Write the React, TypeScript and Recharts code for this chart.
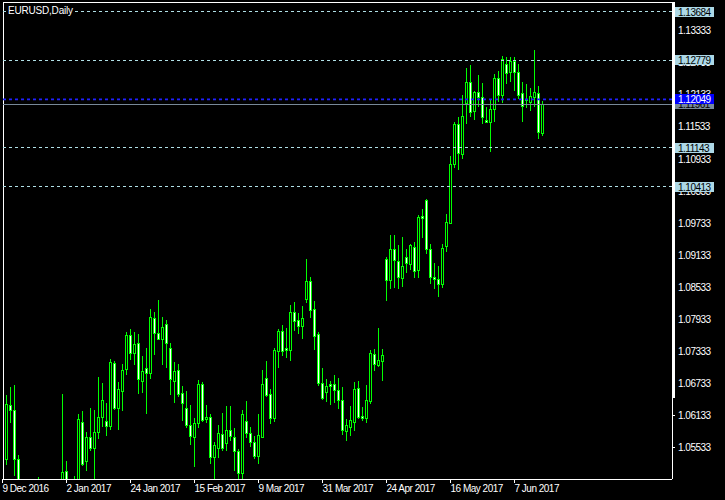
import React from "react";
import { ComposedChart, Bar, XAxis, YAxis, ReferenceLine } from "recharts";

// EURUSD daily candles, 9 Dec 2016 .. 16 Jun 2017
const opens = [
  1.06126, 1.05327, 1.06331, 1.06238, 1.05321, 1.041, 1.045, 1.0402, 1.0385, 1.0425,
  1.0436, 1.0453, 1.0452, 1.0456, 1.041, 1.048, 1.05097, 1.0458, 1.0405, 1.0488,
  1.06008, 1.05289, 1.05727, 1.05521, 1.05821, 1.06101, 1.06032, 1.05944, 1.07111, 1.06281,
  1.06599, 1.06999, 1.07641, 1.07298, 1.07486, 1.06786, 1.07018, 1.06924, 1.07953, 1.07673,
  1.07572, 1.07847, 1.07392, 1.06786, 1.06986, 1.0655, 1.0627, 1.05957, 1.05738, 1.05989,
  1.06719, 1.06064, 1.06101, 1.05353, 1.05521, 1.05789, 1.05615, 1.05864, 1.05733, 1.05471,
  1.05054, 1.06032, 1.05813, 1.05645, 1.05377, 1.05738, 1.06831, 1.06531, 1.06083, 1.07347,
  1.07716, 1.07403, 1.0736, 1.08065, 1.07921, 1.07809, 1.08314, 1.08651, 1.08122, 1.07654,
  1.06737, 1.0658, 1.06724, 1.06724, 1.06612, 1.06425, 1.05851, 1.05925, 1.06019, 1.06655,
  1.06126, 1.06094, 1.06412, 1.0728, 1.0708, 1.0716, 1.09062, 1.0867, 1.09244, 1.09025,
  1.08701, 1.09094, 1.08963, 1.09281, 1.08857, 1.09867, 1.10161, 1.09244, 1.08731, 1.08688,
  1.086, 1.09311, 1.09742, 1.10834, 1.11582, 1.11021, 1.11986, 1.12368, 1.11831, 1.12181,
  1.12098, 1.11663, 1.1162, 1.11863, 1.12443, 1.1213, 1.12705, 1.12561, 1.12772, 1.12555,
  1.12162, 1.12037, 1.12005, 1.12098, 1.12162, 1.11425,
];
const highs = [
  1.06238, 1.06518, 1.06674, 1.06706, 1.05396, 1.0475, 1.0474, 1.0414, 1.044, 1.04985,
  1.0474, 1.0462, 1.0469, 1.0474, 1.049, 1.06537, 1.05284, 1.0485, 1.05003, 1.06163,
  1.06219, 1.05832, 1.06275, 1.06238, 1.06855, 1.06737, 1.06363, 1.07192, 1.07154, 1.06767,
  1.07098, 1.07691, 1.07753, 1.07691, 1.0766, 1.07248, 1.07392, 1.08127, 1.08065, 1.08296,
  1.07972, 1.07921, 1.07486, 1.0713, 1.07098, 1.06687, 1.06593, 1.06331, 1.06083, 1.06799,
  1.06756, 1.06331, 1.06163, 1.05645, 1.05957, 1.06187, 1.06313, 1.06313, 1.05901, 1.05503,
  1.06238, 1.06406, 1.05925, 1.05757, 1.06163, 1.06986, 1.07154, 1.06631, 1.07403, 1.07753,
  1.07828, 1.07766, 1.08202, 1.08264, 1.08047, 1.08183, 1.09062, 1.0872, 1.08277, 1.07691,
  1.07018, 1.06818, 1.0678, 1.06893, 1.06831, 1.06662, 1.0607, 1.06313, 1.06767, 1.0678,
  1.063, 1.06706, 1.0736, 1.07379, 1.07766, 1.07379, 1.091, 1.09511, 1.09511, 1.09324,
  1.09468, 1.0925, 1.09343, 1.09386, 1.09886, 1.09998, 1.10179, 1.09343, 1.08982, 1.08932,
  1.09343, 1.09904, 1.10989, 1.1162, 1.11713, 1.1213, 1.1263, 1.12691, 1.12205, 1.12504,
  1.12349, 1.119, 1.1205, 1.12523, 1.12579, 1.1286, 1.12835, 1.12835, 1.12835, 1.1271,
  1.12379, 1.12336, 1.12267, 1.12972, 1.12299, 1.12018,
];
const lows = [
  1.05396, 1.05233, 1.06019, 1.0503, 1.0366, 1.0394, 1.039, 1.0352, 1.0375, 1.042,
  1.0433, 1.0437, 1.0428, 1.04, 1.0406, 1.0453, 1.0454, 1.034, 1.039, 1.048,
  1.05209, 1.0511, 1.0549, 1.0454, 1.05709, 1.05944, 1.0577, 1.05882, 1.06257, 1.05882,
  1.06238, 1.06917, 1.07192, 1.07098, 1.06562, 1.0658, 1.06187, 1.06842, 1.07291, 1.0756,
  1.07098, 1.07048, 1.06537, 1.06393, 1.06505, 1.06051, 1.05914, 1.05602, 1.05196, 1.05914,
  1.06038, 1.06019, 1.05252, 1.04891, 1.05364, 1.0549, 1.0549, 1.05677, 1.05116, 1.04891,
  1.04966, 1.05738, 1.0557, 1.05346, 1.05241, 1.05727, 1.06505, 1.05989, 1.06038, 1.07048,
  1.07267, 1.07235, 1.07173, 1.07734, 1.07673, 1.0759, 1.08264, 1.07983, 1.07379, 1.06706,
  1.06444, 1.06412, 1.0635, 1.06393, 1.0627, 1.05789, 1.05677, 1.0577, 1.05864, 1.06083,
  1.06051, 1.06019, 1.06363, 1.06986, 1.07066, 1.06799, 1.08296, 1.08514, 1.08544, 1.08514,
  1.08557, 1.08825, 1.0887, 1.08731, 1.08731, 1.0948, 1.09169, 1.08619, 1.08514, 1.0837,
  1.08544, 1.09218, 1.0973, 1.10789, 1.10752, 1.10957, 1.11612, 1.11737, 1.11681, 1.1193,
  1.11601, 1.1162, 1.11088, 1.1165, 1.12018, 1.12005, 1.12349, 1.12398, 1.12224, 1.12069,
  1.1165, 1.11911, 1.1185, 1.1193, 1.1132, 1.11382,
];
const closes = [
  1.05508, 1.06345, 1.06243, 1.05327, 1.041, 1.045, 1.0402, 1.0385, 1.0425, 1.0436,
  1.0453, 1.0452, 1.0456, 1.041, 1.048, 1.05078, 1.0458, 1.0405, 1.0488, 1.0607,
  1.05233, 1.05727, 1.05521, 1.05821, 1.06101, 1.06425, 1.05944, 1.0713, 1.06281, 1.06631,
  1.06986, 1.07635, 1.0731, 1.07472, 1.06812, 1.06967, 1.06924, 1.07972, 1.07673, 1.07572,
  1.07785, 1.07486, 1.06812, 1.06967, 1.06537, 1.06374, 1.05957, 1.05757, 1.05989, 1.06724,
  1.06051, 1.06113, 1.05353, 1.05583, 1.05802, 1.05521, 1.05864, 1.05757, 1.05462, 1.05054,
  1.06163, 1.05802, 1.05645, 1.05377, 1.0577, 1.06719, 1.06518, 1.06083, 1.0736, 1.07716,
  1.07347, 1.0736, 1.08065, 1.07908, 1.07815, 1.07953, 1.08651, 1.08108, 1.07628, 1.06737,
  1.06457, 1.06687, 1.06692, 1.06612, 1.06425, 1.05864, 1.05957, 1.06051, 1.06631, 1.06113,
  1.06094, 1.06425, 1.07298, 1.07093, 1.07173, 1.07261, 1.0867, 1.09244, 1.09044, 1.0872,
  1.08932, 1.08982, 1.09324, 1.08838, 1.09842, 1.09835, 1.09244, 1.08731, 1.08683, 1.086,
  1.09263, 1.09749, 1.10834, 1.11582, 1.1104, 1.11737, 1.12368, 1.11818, 1.12181, 1.12098,
  1.11724, 1.11631, 1.11863, 1.12454, 1.1213, 1.12804, 1.12536, 1.12766, 1.12566, 1.1213,
  1.1193, 1.12055, 1.12112, 1.12181, 1.11444, 1.11961,
];

const dateTicks = [0, 16, 32, 48, 64, 80, 96, 112, 128];
const dateLabels = [
  "9 Dec 2016", "2 Jan 2017", "24 Jan 2017", "15 Feb 2017", "9 Mar 2017",
  "31 Mar 2017", "24 Apr 2017", "16 May 2017", "7 Jun 2017",
];
const priceTicks = [
  1.05533, 1.06133, 1.06733, 1.07333, 1.07933, 1.08533, 1.09133,
  1.09733, 1.10333, 1.10933, 1.11533, 1.12133, 1.12733, 1.13333,
];
const levelLines = [1.13684, 1.12779, 1.11143, 1.10413];
const bidPrice = 1.12049;
const lastPrice = 1.11961;

const data = opens.map((open, i) => ({
  idx: i,
  open,
  high: highs[i],
  low: lows[i],
  close: closes[i],
}));

const FONT = "'Liberation Sans', Arial, sans-serif";
const GREEN = "#00ff00";
const LEVEL = "#b0e0e6";
const X_DOMAIN = [0.125, 167.375];
const Y_DOMAIN = [1.04947, 1.1387];
const MARGIN = { top: 2, right: 0, bottom: 0, left: 3 };

const Candle = (props: any) => {
  const { x, y, width, height, payload } = props;
  if (payload == null || height == null) return null;
  const { open, close, high, low } = payload;
  const cx = x + width / 2;
  const py = (v: number) => y + ((high - v) / (high - low || 1)) * height;
  const yHigh = Math.round(py(high));
  const yLow = Math.round(py(low));
  const yTop = Math.round(py(Math.max(open, close)));
  const yBot = Math.round(py(Math.min(open, close)));
  const left = Math.round(cx - 1.5);
  const bear = close < open;
  return (
    <g>
      <rect x={left + 1} y={yHigh} width={1} height={yLow - yHigh + 1} fill={GREEN} />
      <rect x={left} y={yTop} width={3} height={yBot - yTop + 1} fill={GREEN} />
      {yBot - yTop > 1 && (
        <rect
          x={left + 1}
          y={yTop + 1}
          width={1}
          height={yBot - yTop - 1}
          fill={bear ? "#ffffff" : "#000000"}
        />
      )}
    </g>
  );
};

const PriceTag = (props: any) => {
  const { viewBox, text, bg, fg } = props;
  if (!viewBox) return null;
  const x = viewBox.x + viewBox.width + 3;
  const y = Math.round(viewBox.y);
  return (
    <g>
      <rect x={x} y={y - 5} width={39} height={10} fill={bg} />
      <text x={x + 3} y={y + 4} fill={fg} fontSize={10} fontFamily={FONT} letterSpacing={-0.5}>
        {text}
      </text>
    </g>
  );
};

const DateTick = (props: any) => {
  const { x, y, payload } = props;
  const k = dateTicks.indexOf(payload.value);
  return (
    <g>
      <line x1={x} y1={y} x2={x} y2={y + 4} stroke="#fff" shapeRendering="crispEdges" />
      <text x={x} y={y + 13} fill="#fff" fontSize={10} fontFamily={FONT} letterSpacing={-0.5} textAnchor="start">
        {dateLabels[k]}
      </text>
    </g>
  );
};

export default function App() {
  return (
    <div style={{ position: "absolute", left: 0, top: 0, width: 725, height: 500, background: "#000", overflow: "hidden" }}>
      <ComposedChart width={725} height={500} data={data} margin={MARGIN}>
        <XAxis
          dataKey="idx"
          type="number"
          domain={X_DOMAIN}
          allowDataOverflow
          ticks={dateTicks}
          interval={0}
          height={21}
          tickSize={0}
          tickMargin={0}
          tickLine={false}
          axisLine={{ stroke: "#fff", shapeRendering: "crispEdges" }}
          tick={<DateTick />}
        />
        <YAxis
          orientation="right"
          type="number"
          domain={Y_DOMAIN}
          allowDataOverflow
          ticks={priceTicks}
          interval={0}
          width={53}
          tickSize={3}
          tickMargin={3}
          axisLine={{ stroke: "#fff", shapeRendering: "crispEdges" }}
          tickLine={{ stroke: "#fff", shapeRendering: "crispEdges" }}
          tickFormatter={(v: number) => v.toFixed(5)}
          tick={{ fill: "#fff", fontSize: 10, fontFamily: FONT, letterSpacing: -0.5 }}
        />
        <ReferenceLine x={0.125} stroke="#fff" shapeRendering="crispEdges" />
        <ReferenceLine y={1.1387} stroke="#fff" shapeRendering="crispEdges" />
        {levelLines.map((v) => (
          <ReferenceLine key={v} y={v} stroke={LEVEL} strokeDasharray="3 3" shapeRendering="crispEdges" />
        ))}
        <ReferenceLine y={lastPrice} stroke="#778899" shapeRendering="crispEdges" />
        <Bar
          dataKey={(d: any) => [d.low, d.high]}
          barSize={3}
          shape={<Candle />}
          isAnimationActive={false}
        />
        <ReferenceLine y={bidPrice} stroke="#2020ff" strokeWidth={1.6} strokeDasharray="3 3" />
      </ComposedChart>

      {/* price tags drawn on a second layer so they sit above the axis labels */}
      <div style={{ position: "absolute", left: 0, top: 0, pointerEvents: "none" }}>
        <ComposedChart width={725} height={500} data={data} margin={MARGIN}>
          <XAxis dataKey="idx" type="number" domain={X_DOMAIN} allowDataOverflow height={21} tick={false} tickLine={false} axisLine={false} />
          <YAxis orientation="right" type="number" domain={Y_DOMAIN} allowDataOverflow width={53} tick={false} tickLine={false} axisLine={false} />
          {levelLines.map((v) => (
            <ReferenceLine
              key={v}
              y={v}
              stroke="none"
              label={<PriceTag text={v.toFixed(5)} bg="#add8e6" fg="#000" />}
            />
          ))}
          <ReferenceLine
            y={lastPrice}
            stroke="none"
            label={<PriceTag text={lastPrice.toFixed(5)} bg="#778899" fg="#000" />}
          />
          <ReferenceLine
            y={bidPrice}
            stroke="none"
            label={<PriceTag text={bidPrice.toFixed(5)} bg="#0000ff" fg="#fff" />}
          />
        </ComposedChart>
      </div>

      <div
        style={{
          position: "absolute", left: 7, top: 5, height: 11, lineHeight: "11px",
          padding: "0 1px", background: "#000", color: "#fff",
          fontFamily: FONT, fontSize: 10, letterSpacing: -0.2,
        }}
      >
        EURUSD,Daily
      </div>
      <div style={{ position: "absolute", left: 672, top: 2, width: 3, height: 396, background: "#fff" }} />
    </div>
  );
}
